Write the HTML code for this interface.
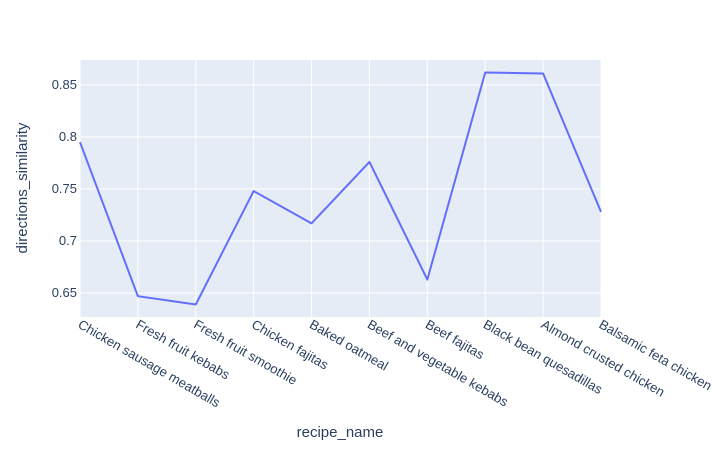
<!DOCTYPE html>
<html><head><meta charset="utf-8"><style>
body{margin:0;background:#fff;font-family:"Liberation Sans",Arial,sans-serif}
</style></head><body>
<svg id="chart" width="728" height="450" xmlns="http://www.w3.org/2000/svg"></svg>
<script>
const categories=["Chicken sausage meatballs","Fresh fruit kebabs","Fresh fruit smoothie","Chicken fajitas","Baked oatmeal","Beef and vegetable kebabs","Beef fajitas","Black bean quesadillas","Almond crusted chicken","Balsamic feta chicken"];
const values=[0.795,0.647,0.639,0.748,0.717,0.776,0.663,0.862,0.861,0.728];
const yTicks=[0.65,0.7,0.75,0.8,0.85];
const yTickLabels=["0.65","0.7","0.75","0.8","0.85"];
const NS="http://www.w3.org/2000/svg";
const svg=document.getElementById('chart');
const L=80,R=601,T=60,B=317,yMin=0.627,yMax=0.874;
const x=i=>L+i*(R-L)/(categories.length-1);
const y=v=>B-(v-yMin)/(yMax-yMin)*(B-T);
function mk(t,a,p){const e=document.createElementNS(NS,t);for(const k in a)e.setAttribute(k,a[k]);(p||svg).appendChild(e);return e;}
const bg=mk('rect',{x:L,y:T,width:R-L,height:B-T,fill:'#e5ecf6'});


categories.forEach((c,i)=>{
 const g=mk('line',{x1:x(i),x2:x(i),y1:T,y2:B,stroke:'#fff','stroke-width':1});
 
 
 const t=mk('text',{x:x(i)-3,y:B+10,'font-size':13.2,fill:'#2a3f5f',transform:`rotate(30 ${x(i)-3} ${B+10})`});
 t.textContent=c;
 
 
});
yTicks.forEach((v,i)=>{
 const g=mk('line',{x1:L,x2:R,y1:y(v),y2:y(v),stroke:'#fff','stroke-width':1});
 
 
 const t=mk('text',{x:L-3,y:y(v)+4,'font-size':13,fill:'#2a3f5f','text-anchor':'end'});
 t.textContent=yTickLabels[i];
 
 
});
const line=mk('polyline',{points:values.map((v,i)=>x(i)+','+y(v)).join(' '),fill:'none',stroke:'#636efa','stroke-width':2,'stroke-linejoin':'round'});


const xt=mk('text',{x:340,y:437,'font-size':15,fill:'#2a3f5f','text-anchor':'middle'});
xt.textContent='recipe_name';


const yt=mk('text',{x:27,y:188,'font-size':15,fill:'#2a3f5f','text-anchor':'middle',transform:'rotate(-90 27 188)'});
yt.textContent='directions_similarity';


</script>
</body></html>
